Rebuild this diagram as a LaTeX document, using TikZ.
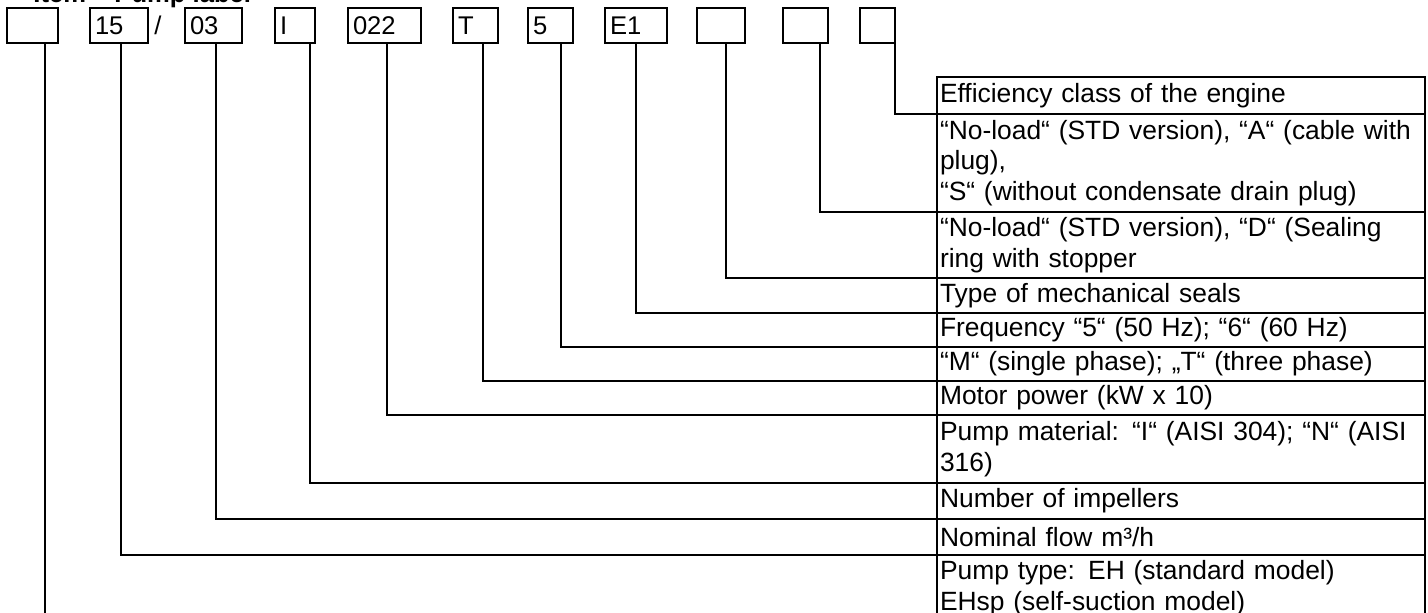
\documentclass[tikz,border=0pt]{standalone}
\usepackage{fontspec}
\setmainfont{Liberation Sans}
\usetikzlibrary{positioning}

\begin{document}
\begin{tikzpicture}[x=0.5pt, y=-0.5pt,
    digit/.style={rectangle, draw, line width=0.8pt, outer sep=0pt,
                  text width=#1, minimum height=17.5pt, inner xsep=2.5pt,
                  inner ysep=0pt, align=left,
                  font=\fontsize{12.8}{15}\selectfont},
    row/.style={rectangle, draw, line width=0.8pt, outer sep=0pt,
                text width=241pt, inner xsep=1.5pt, inner ysep=1pt,
                align=left, font=\fontsize{13.2}{15.2}\selectfont},
    lead/.style={line width=0.8pt},
    node distance=16pt
]
    \useasboundingbox (0,0) rectangle (1428,612);
    \clip (0,0) rectangle (1428,612);

    % Heading (cut by the page)
    \node[anchor=base west, inner sep=0pt,
          font=\bfseries\fontsize{12.8}{15}\selectfont] (title) at (33,2)
          {Item – Pump label};

    % Code boxes
    \node[digit=20.5pt, anchor=north west] (b1) at (7,8) {};
    \node[digit=24pt, right=of b1] (b2) {15};
    \node[right=3pt of b2, inner sep=0pt,
          font=\fontsize{12.8}{15}\selectfont] (slash) {/};
    \node[digit=23.5pt, right=18.5pt of b2] (b3) {03};
    \node[digit=15pt, right=16.5pt of b3] (b4) {I};
    \node[digit=31.5pt, right=16.5pt of b4] (b5) {022};
    \node[digit=17.5pt, right=of b5] (b6) {T};
    \node[digit=17.5pt, right=15pt of b6] (b7) {5};
    \node[digit=26pt, right=of b7] (b8) {E1};
    \node[digit=19pt, right=15pt of b8] (b9) {};
    \node[digit=17.5pt, right=19pt of b9] (b10) {};
    \node[digit=12.5pt, right=of b10] (b11) {};

    % Legend table
    \node[row, minimum height=18.5pt, anchor=north west] (r1) at (937,77)
        {Efficiency class of the engine};
    \node[row, minimum height=49pt, below=0pt of r1] (r2)
        {“No-load“ (STD version), “A“ (cable with\\plug),\\“S“ (without condensate drain plug)};
    \node[row, minimum height=33pt, below=0pt of r2] (r3)
        {“No-load“ (STD version), “D“ (Sealing\\ring with stopper};
    \node[row, minimum height=17.5pt, below=0pt of r3] (r4)
        {Type of mechanical seals};
    \node[row, minimum height=17pt, below=0pt of r4] (r5)
        {Frequency “5“ (50 Hz); “6“ (60 Hz)};
    \node[row, minimum height=17pt, below=0pt of r5] (r6)
        {“M“ (single phase); „T“ (three phase)};
    \node[row, minimum height=17pt, below=0pt of r6] (r7)
        {Motor power (kW x 10)};
    \node[row, minimum height=34pt, below=0pt of r7] (r8)
        {Pump material: “I“ (AISI 304); “N“ (AISI\\316)};
    \node[row, minimum height=18pt, below=0pt of r8] (r9)
        {Number of impellers};
    \node[row, minimum height=18pt, below=0pt of r9] (r10)
        {Nominal flow m³/h};
    \node[row, minimum height=33pt, below=0pt of r10] (r11)
        {Pump type: EH (standard model)\\EHsp (self-suction model)};

    % Leaders from the boxes to the rows
    \foreach \b/\dx/\r in {b1/19/r11, b2/15.5/r10, b3/15.5/r9, b4/17.5/r8,
                           b5/19.5/r7, b6/15/r6, b7/16.5/r5, b8/15.5/r4,
                           b9/14.5/r3, b10/18.5/r2, b11/17.5/r1}
        \draw[lead] ([xshift=\dx pt]\b.south west) |- (\r.south west);
\end{tikzpicture}
\end{document}
